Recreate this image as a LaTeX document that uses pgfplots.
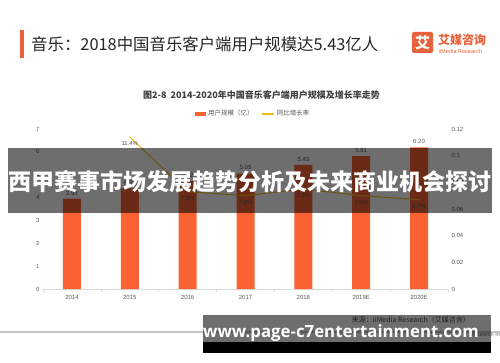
\documentclass[border=0pt]{standalone}
\usepackage{fontspec}
\usepackage{pgfplots}
\pgfplotsset{compat=1.18}
\setmainfont{Liberation Sans}
\newfontfamily\cjk{Noto Sans CJK SC}
\newfontfamily\wm{Open Sans}
\definecolor{barorange}{RGB}{250,98,52}
\definecolor{linegold}{RGB}{240,188,30}
\definecolor{txtgray}{RGB}{89,89,89}
\definecolor{logoorange}{RGB}{232,98,60}
\definecolor{axgray}{RGB}{217,217,217}
\pgfplotsset{/pgf/number format/assume math mode=true}
\begin{document}
\begin{tikzpicture}
\path[use as bounding box] (0pt,0pt) rectangle (500pt,362pt);
\clip (0pt,0pt) rectangle (500pt,362pt);
\fill[white] (0pt,0pt) rectangle (500pt,362pt);
% header
\fill[logoorange] (20pt,332pt) rectangle (24pt,304pt);
\node[anchor=west, inner sep=0, text=black!85] at (31pt,318pt) {\cjk\fontsize{16.4}{16.4}\selectfont 音乐：2018中国音乐客户端用户规模达5.43亿人};
\fill[logoorange, rounded corners=2pt] (412pt,330pt) rectangle (433pt,309pt);
\node[white, inner sep=0] at (422.5pt,319.5pt) {\cjk\bfseries\fontsize{15}{15}\selectfont 艾};
\node[anchor=west, inner sep=0, text=logoorange] at (438pt,322pt) {\cjk\bfseries\fontsize{12}{12}\selectfont 艾媒咨询};
\node[anchor=west, inner sep=0, text=logoorange] at (438.5pt,311pt) {\fontsize{5.6}{5.6}\selectfont iiMedia Research};
% chart title
\node[inner sep=0, text=black!75] at (261.5pt,267pt) {\cjk\bfseries\fontsize{9}{9}\selectfont 图2-8\ \ 2014-2020年中国音乐客户端用户规模及增长率走势};
% bars
\begin{axis}[
  at={(43pt,73pt)}, anchor=south west, scale only axis,
  width=405pt, height=160pt,
  xmin=-0.5, xmax=6.5, ymin=0, ymax=7,
  axis x line*=bottom, axis y line*=left,
  x axis line style={draw=axgray, line width=0.8pt, -},
  y axis line style={draw=none},
  xtick={0,1,2,3,4,5,6},
  xticklabels={2014,2015,2016,2017,2018,2019E,2020E},
  minor xtick={-0.5,0.5,1.5,2.5,3.5,4.5,5.5,6.5},
  major tick length=0pt, minor tick length=3pt,
  tick align=outside, minor tick style={draw=axgray, line width=0.6pt},
  ytick={0,1,2,3,4,5,6,7},
  ticklabel style={font=\fontsize{6}{6}\selectfont, text=txtgray},
  xticklabel style={yshift=-3pt},
  legend style={at={(0.519,1.094)}, anchor=center, draw=none, fill=none,
    legend columns=2, font=\cjk\fontsize{6.5}{6.5}\selectfont, text=txtgray,
    /tikz/every even column/.append style={column sep=6pt}},
  nodes near coords={\pgfmathprintnumber[fixed,zerofill,precision=2]{\pgfplotspointmeta}},
  every node near coord/.append style={font=\fontsize{6}{6}\selectfont, text=txtgray},
]
\addplot[ybar, bar width=18pt, fill=barorange, draw=none,
  legend image code/.code={\fill[barorange] (0pt,-2pt) rectangle (11pt,2pt);}] coordinates {
(0,3.95) (1,4.40) (2,4.72) (3,5.05) (4,5.43) (5,5.81) (6,6.20)};
\addlegendentry{用户规模（亿）}
\addlegendimage{legend image code/.code={\draw[draw=linegold, line width=1.2pt] (0pt,0pt) -- (12pt,0pt);}}
\addlegendentry{同比增长率}
\end{axis}
% line
\begin{axis}[
  at={(43pt,73pt)}, anchor=south west, scale only axis,
  width=405pt, height=160pt,
  xmin=-0.5, xmax=6.5, ymin=0, ymax=0.12,
  axis x line=none, axis y line*=right,
  y axis line style={draw=none},
  major tick length=0pt,
  ytick={0,0.02,0.04,0.06,0.08,0.1,0.12},
  yticklabels={0,0.02,0.04,0.06,0.08,0.1,0.12},
  scaled y ticks=false,
  ticklabel style={font=\fontsize{6}{6}\selectfont, text=txtgray},
  point meta=explicit symbolic,
  nodes near coords, nodes near coords align=below,
  every node near coord/.append style={font=\fontsize{6}{6}\selectfont, text=txtgray, yshift=-1pt},
]
\addplot[linegold, line width=1pt, mark=none] coordinates {
(1,0.114) [11.4\%] (2,0.073) [7.3\%] (3,0.070) [7.0\%] (4,0.075) [7.5\%] (5,0.070) [7.0\%] (6,0.067) [6.7\%]};
\end{axis}
% source
\node[anchor=east, inner sep=0, text=black!70] at (470pt,42pt) {\cjk\fontsize{7}{7}\selectfont 来源：iiMedia Research（艾媒咨询）};
\draw[black!22, line width=1.3pt] (0pt,30pt) -- (500pt,30pt);
\node[anchor=west, inner sep=0, text=black!55] at (470pt,27pt) {\fontsize{5.5}{5.5}\selectfont Research Inc};
% overlays
\fill[black, opacity=0.57] (8pt,214pt) rectangle (492pt,149pt);
\node[white, inner sep=0] at (250pt,180pt) {\cjk\bfseries\fontsize{23}{23}\selectfont 西甲赛事市场发展趋势分析及未来商业机会探讨};
\fill[black, opacity=0.57] (203pt,47pt) rectangle (491pt,20pt);
\fill[black] (203pt,20pt) rectangle (491pt,9pt);
\node[anchor=west, white, inner sep=0] at (203pt,29pt) {\wm\bfseries\fontsize{16.8}{16.8}\selectfont www.page-c7entertainment.com};
\end{tikzpicture}
\end{document}
